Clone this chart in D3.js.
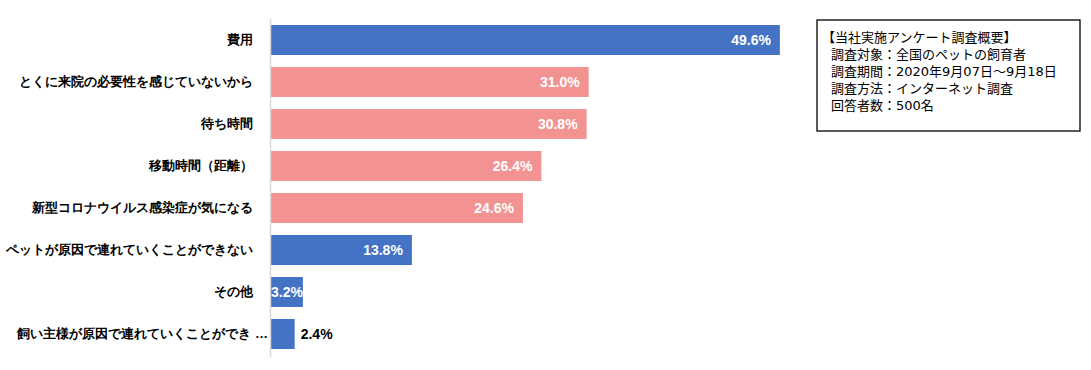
<!DOCTYPE html>
<html>
<head>
<meta charset="utf-8">
<script src="https://cdn.jsdelivr.net/npm/d3@7"></script>
<style>
  body { margin: 0; background: #fff; }
  svg { display: block; font-family: "Noto Sans CJK JP", "Noto Sans", sans-serif; }
  .cat-label { font-size: 13px; font-weight: 700; fill: #000; }
  .bar-value { font-size: 14px; font-weight: 700; font-family: "Liberation Sans", "Noto Sans", sans-serif; }
  .note text { font-size: 13px; fill: #000; font-family: "DejaVu Sans", "Noto Sans CJK JP", sans-serif; }
</style>
</head>
<body>
<svg id="chart" width="1091" height="370"></svg>
<script>
const categories = [
  "費用",
  "とくに来院の必要性を感じていないから",
  "待ち時間",
  "移動時間（距離）",
  "新型コロナウイルス感染症が気になる",
  "ペットが原因で連れていくことができない",
  "その他",
  "飼い主様が原因で連れていくことができ …"
];
const values = [49.6, 31.0, 30.8, 26.4, 24.6, 13.8, 3.2, 2.4];
// which bars are drawn in the accent (pink) colour
const groups = ["main", "accent", "accent", "accent", "accent", "main", "main", "main"];
const noteLines = [
  "【当社実施アンケート調査概要】",
  "調査対象：全国のペットの飼育者",
  "調査期間：2020年9月07日～9月18日",
  "調査方法：インターネット調査",
  "回答者数：500名"
];

const COLORS = { main: "#4472C4", accent: "#F39391" };

const svg = d3.select("#chart");
const rows = categories.map((name, i) => ({ name, value: values[i], group: groups[i] }));

const x = d3.scaleLinear().domain([0, 50]).range([270, 784]);
const y = d3.scaleBand()
  .domain(categories)
  .range([19, 355])
  .paddingInner(12 / 42)
  .paddingOuter(0.143);

// bars
svg.append("g")
  .selectAll("rect")
  .data(rows)
  .join("rect")
  .attr("x", x(0))
  .attr("y", d => y(d.name))
  .attr("width", d => x(d.value) - x(0))
  .attr("height", y.bandwidth())
  .attr("fill", d => COLORS[d.group]);

// category axis
const yAxis = d3.axisLeft(y).tickSize(0).tickPadding(17);
const axisG = svg.append("g")
  .attr("transform", `translate(${x(0)},0)`)
  .call(yAxis);
axisG.select(".domain")
  .attr("d", `M0.5,19V357`)
  .attr("stroke", "#D9D9D9")
  .attr("stroke-width", 1.5);
axisG.selectAll(".tick text")
  .attr("class", "cat-label")
  .attr("font-family", null)
  .attr("font-size", null)
  .attr("fill", null)
  // the truncated label runs its ellipsis up to the axis
  .attr("dx", d => (d.endsWith("…") ? 15 : 0));

// value labels
svg.append("g")
  .selectAll("text")
  .data(rows)
  .join("text")
  .attr("class", "bar-value")
  .attr("dy", "0.35em")
  .attr("y", d => y(d.name) + y.bandwidth() / 2)
  .each(function (d) {
    const w = x(d.value) - x(0);
    const t = d3.select(this);
    if (w > 40) {
      t.attr("x", x(d.value) - 9).attr("text-anchor", "end").attr("fill", "#fff");
    } else if (w > 30) {
      t.attr("x", x(d.value)).attr("text-anchor", "end").attr("fill", "#fff");
    } else {
      t.attr("x", x(d.value) + 6).attr("text-anchor", "start").attr("fill", "#000");
    }
  })
  .text(d => d.value.toFixed(1) + "%");

// survey note box
const note = svg.append("g").attr("class", "note");
note.append("rect")
  .attr("x", 817)
  .attr("y", 20)
  .attr("width", 263)
  .attr("height", 111)
  .attr("fill", "#fff")
  .attr("stroke", "#000")
  .attr("stroke-width", 1.3);
note.selectAll("text")
  .data(noteLines)
  .join("text")
  .attr("x", (d, i) => (i === 0 ? 822 : 831))
  .attr("y", (d, i) => 37 + i * 17)
  .attr("dy", "0.35em")
  .text(d => d);
</script>
</body>
</html>
